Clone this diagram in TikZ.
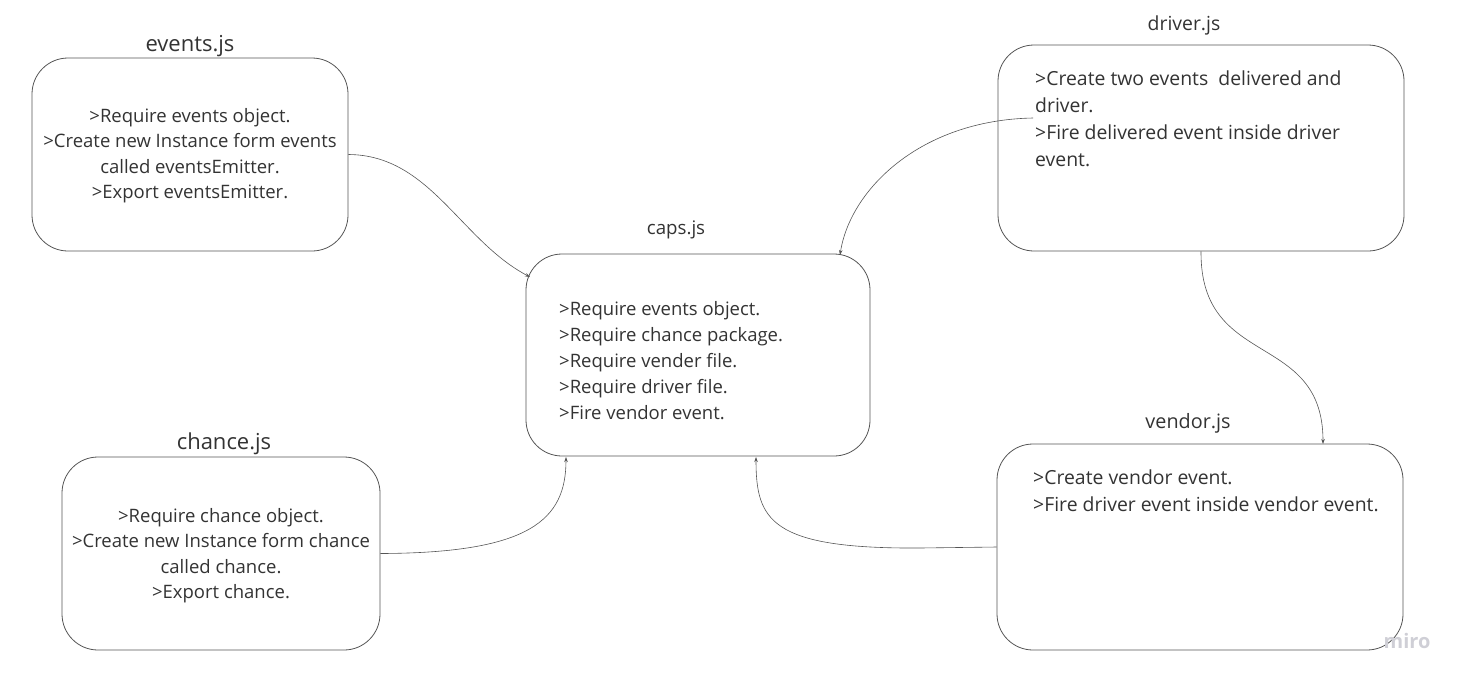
\documentclass[tikz,border=0pt]{standalone}
\usepackage{fontspec}
\setmainfont{Open Sans}
\usetikzlibrary{arrows.meta}
\definecolor{linegray}{HTML}{555555}
\definecolor{textgray}{HTML}{333333}
\definecolor{mirogray}{HTML}{CFCFD6}
\begin{document}
\begin{tikzpicture}[x=1pt,y=-1pt,>={Stealth[length=5pt,width=3.5pt]},
    box/.style={draw=linegray,line width=0.8pt,rounded corners=36pt,inner sep=0pt},
    body/.style={text=textgray,inner sep=0pt,font=\fontsize{18.5}{25.5}\selectfont},
    widebody/.style={text=textgray,inner sep=0pt,font=\fontsize{19.4}{27}\selectfont},
    title/.style={text=textgray,inner sep=0pt,font=\fontsize{19.4}{23}\selectfont},
    bigtitle/.style={text=textgray,inner sep=0pt,font=\fontsize{22}{26}\selectfont},
    link/.style={draw=linegray,line width=0.6pt}]
      \useasboundingbox (0,0) rectangle (1463,683);

      % the five files
      \node[box,minimum width=316pt,minimum height=193pt] (events) at (190,154.5) {};
      \node[box,minimum width=344pt,minimum height=202pt] (caps) at (698,355) {};
      \node[box,minimum width=406pt,minimum height=206pt] (driver) at (1201,148) {};
      \node[box,minimum width=318pt,minimum height=193pt] (chance) at (221,553.5) {};
      \node[box,minimum width=406pt,minimum height=206pt] (vendor) at (1200,547) {};

      \node[bigtitle] (eventsname) at (190,46) {events.js};
      \node[title,font=\fontsize{18.7}{23}\selectfont] (capsname) at (676,230) {caps.js};
      \node[title] (drivername) at (1184,25) {driver.js};
      \node[bigtitle] (chancename) at (224,443.5) {chance.js};
      \node[title,font=\fontsize{19.8}{23}\selectfont] (vendorname) at (1188,423) {vendor.js};

      \node[body,align=center] (eventstxt) at (190,155.5) {>Require events object.\\>Create new Instance form events\\called eventsEmitter.\\>Export eventsEmitter.};
      \node[body,align=left,anchor=west,font=\fontsize{18.5}{26}\selectfont] (capstxt) at (559,361) {>Require events object.\\>Require chance package.\\>Require vender file.\\>Require driver file.\\>Fire vendor event.};
      \node[widebody,align=left,anchor=west] (drivertxt) at (1035,118.5) {>Create two events~ delivered and\\driver.\\>Fire delivered event inside driver\\event.};
      \node[body,align=center] (chancetxt) at (221,555.5) {>Require chance object.\\>Create new Instance form chance\\called chance.\\>Export chance.};
      \node[widebody,align=left,anchor=west] (vendortxt) at (1033,490.5) {>Create vendor event.\\>Fire driver event inside vendor event.};

      \node[text=mirogray,inner sep=0pt,font=\fontsize{20}{24}\selectfont\bfseries] (logo) at (1407,641) {miro};

      % ends of the connectors
      \coordinate (capsnw) at (530,277);
      \coordinate (capsne) at (840,255);
      \coordinate (capssw) at (566,457);
      \coordinate (capsse) at (756,457);
      \coordinate (driverout) at (1033,118);
      \coordinate (vendorin) at (1323,444);

      \draw[link,->] (events.east) .. controls (430,155) and (460,240) .. (capsnw);
      \draw[link,->] (driverout) .. controls (920,120) and (850,190) .. (capsne);
      \draw[link,->] (driver.south) .. controls (1200,370) and (1323,330) .. (vendorin);
      \draw[link,->] (vendor.west) -- (920,548) .. controls (770,549) and (756,520) .. (capsse);
      \draw[link,->] (chance.east) .. controls (530,553) and (566,520) .. (capssw);
\end{tikzpicture}
\end{document}
